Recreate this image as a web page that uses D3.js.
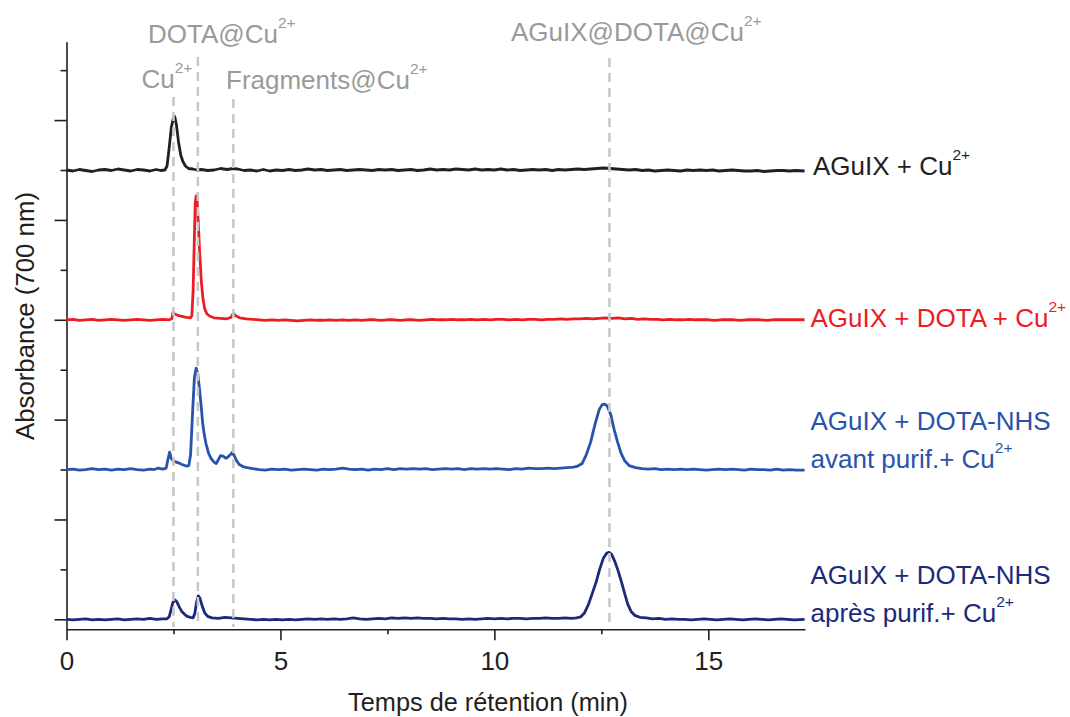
<!DOCTYPE html>
<html><head><meta charset="utf-8">
<script src="https://cdn.jsdelivr.net/npm/d3@7"></script>
<style>body{margin:0;background:#fff}svg{display:block;font-family:"Liberation Sans",Arial,Helvetica,sans-serif}</style>
</head><body><svg id="c" width="1070" height="717"></svg>
<script>
// ---- data: [retention time (min), absorbance relative to trace baseline] ----
const traceBlack = [[0,0.0],[0.15,-0.02],[0.3,0.01],[0.45,-0.01],[0.6,-0.03],[0.75,0.0],[0.9,0.01],[1.05,-0.01],[1.2,0.02],[1.35,0.0],[1.5,-0.02],[1.65,0.01],[1.8,0.0],[1.95,-0.02],[2.1,0.01],[2.2,-0.01],[2.3,0.0],[2.35,0.08],[2.4,0.45],[2.45,0.85],[2.5,1.05],[2.53,1.07],[2.57,0.9],[2.62,0.55],[2.67,0.3],[2.72,0.17],[2.78,0.08],[2.85,0.03],[2.95,0.02],[3.05,0.0],[3.15,0.01],[3.3,-0.01],[3.45,0.0],[3.6,0.03],[3.75,0.01],[3.9,0.03],[4.0,0.02],[4.15,-0.01],[4.3,0.0],[4.45,-0.02],[4.6,0.01],[4.75,-0.02],[4.9,0.0],[5.05,-0.01],[5.2,0.01],[5.35,-0.01],[5.5,0.0],[5.65,0.02],[5.8,0.0],[5.95,0.01],[6.1,-0.01],[6.25,0.0],[6.4,0.01],[6.55,-0.01],[6.7,0.0],[6.85,0.01],[7.0,0.0],[7.15,-0.01],[7.3,0.01],[7.45,0.0],[7.6,0.01],[7.75,-0.01],[7.9,0.0],[8.05,0.01],[8.2,-0.01],[8.35,0.0],[8.5,0.02],[8.65,0.0],[8.8,0.01],[8.95,0.0],[9.1,0.02],[9.25,0.01],[9.4,0.0],[9.55,0.02],[9.7,0.0],[9.85,0.01],[10.0,0.0],[10.15,0.02],[10.3,0.0],[10.45,0.01],[10.6,-0.01],[10.75,0.0],[10.9,0.01],[11.05,0.0],[11.2,0.01],[11.35,-0.01],[11.5,0.01],[11.65,0.0],[11.8,0.01],[11.95,0.02],[12.1,0.01],[12.25,0.02],[12.4,0.03],[12.55,0.04],[12.7,0.03],[12.85,0.02],[13.0,0.01],[13.15,0.0],[13.3,0.01],[13.45,-0.01],[13.6,0.0],[13.75,-0.02],[13.9,-0.01],[14.05,0.0],[14.2,-0.01],[14.35,-0.02],[14.5,0.0],[14.65,-0.01],[14.8,0.0],[14.95,-0.01],[15.1,0.0],[15.25,-0.02],[15.4,-0.01],[15.55,0.0],[15.7,-0.01],[15.85,-0.02],[16.0,-0.02],[16.15,-0.01],[16.3,-0.03],[16.45,-0.02],[16.6,-0.01],[16.75,-0.01],[16.9,-0.02],[17.05,-0.01],[17.25,-0.02]];

const traceRed = [[0,0.0],[0.15,0.01],[0.3,-0.01],[0.45,0.0],[0.6,0.01],[0.75,-0.01],[0.9,0.0],[1.05,0.01],[1.2,0.0],[1.35,-0.01],[1.5,0.0],[1.65,0.01],[1.8,0.0],[1.95,-0.01],[2.1,0.0],[2.25,0.01],[2.4,0.0],[2.46,0.02],[2.49,0.15],[2.52,0.12],[2.6,0.09],[2.7,0.07],[2.8,0.05],[2.9,0.04],[2.93,0.08],[2.96,0.6],[2.99,1.7],[3.01,2.35],[3.03,2.48],[3.05,2.42],[3.08,1.95],[3.11,1.38],[3.15,0.78],[3.19,0.42],[3.23,0.22],[3.28,0.12],[3.35,0.07],[3.45,0.04],[3.6,0.03],[3.75,0.02],[3.85,0.05],[3.9,0.13],[3.95,0.08],[4.05,0.04],[4.2,0.02],[4.35,0.01],[4.5,0.0],[4.65,-0.01],[4.8,0.0],[4.95,-0.01],[5.1,0.0],[5.25,-0.01],[5.4,-0.02],[5.55,-0.01],[5.7,0.0],[5.85,-0.01],[6.0,-0.01],[6.15,0.0],[6.3,-0.01],[6.45,0.0],[6.6,-0.01],[6.75,0.0],[6.9,-0.01],[7.05,0.0],[7.2,0.0],[7.35,-0.01],[7.5,0.0],[7.65,0.0],[7.8,-0.01],[7.95,0.0],[8.1,0.0],[8.25,-0.01],[8.4,0.0],[8.55,0.01],[8.7,0.0],[8.85,0.0],[9.0,0.01],[9.15,0.0],[9.3,0.0],[9.45,0.01],[9.6,0.0],[9.75,0.01],[9.9,0.0],[10.05,0.01],[10.2,0.01],[10.35,0.0],[10.5,0.01],[10.65,0.0],[10.8,0.01],[10.95,0.01],[11.1,0.0],[11.25,0.01],[11.4,0.01],[11.55,0.02],[11.7,0.01],[11.85,0.02],[12.0,0.02],[12.15,0.03],[12.3,0.02],[12.45,0.03],[12.6,0.04],[12.75,0.03],[12.9,0.04],[13.05,0.02],[13.2,0.03],[13.35,0.01],[13.5,0.02],[13.65,0.01],[13.8,0.01],[13.95,0.0],[14.1,0.01],[14.25,0.0],[14.4,0.0],[14.55,0.01],[14.7,0.0],[14.85,0.0],[15.0,0.0],[15.15,-0.01],[15.3,0.0],[15.45,0.0],[15.6,0.0],[15.75,-0.01],[15.9,0.0],[16.05,0.0],[16.2,0.0],[16.35,-0.01],[16.5,0.0],[16.65,0.0],[16.8,0.0],[16.95,0.0],[17.1,0.0],[17.25,0.0]];

const traceBlue = [[0,0.0],[0.15,0.01],[0.3,-0.01],[0.45,0.0],[0.6,0.02],[0.75,0.0],[0.9,0.01],[1.05,-0.01],[1.2,0.01],[1.35,0.0],[1.5,0.02],[1.65,0.0],[1.8,-0.01],[1.95,0.01],[2.05,0.0],[2.15,0.03],[2.25,0.01],[2.33,0.03],[2.37,0.2],[2.41,0.35],[2.45,0.22],[2.5,0.17],[2.6,0.14],[2.7,0.1],[2.8,0.07],[2.86,0.08],[2.9,0.3],[2.95,1.2],[2.99,1.85],[3.03,2.03],[3.07,1.9],[3.11,1.6],[3.15,1.25],[3.18,0.95],[3.22,0.7],[3.26,0.52],[3.32,0.33],[3.38,0.22],[3.45,0.15],[3.5,0.12],[3.55,0.2],[3.6,0.28],[3.66,0.27],[3.72,0.23],[3.76,0.24],[3.82,0.29],[3.87,0.34],[3.92,0.28],[3.98,0.17],[4.04,0.1],[4.12,0.06],[4.22,0.04],[4.35,0.02],[4.5,0.0],[4.65,-0.01],[4.8,0.01],[4.95,0.0],[5.1,0.01],[5.25,-0.01],[5.4,0.0],[5.55,0.01],[5.7,0.0],[5.85,-0.01],[6.0,0.01],[6.15,0.0],[6.3,0.01],[6.45,0.03],[6.6,0.01],[6.75,0.0],[6.9,0.01],[7.05,-0.01],[7.2,0.01],[7.35,0.0],[7.5,0.02],[7.65,0.0],[7.8,0.02],[7.95,0.01],[8.1,0.02],[8.25,0.01],[8.4,0.02],[8.55,0.0],[8.7,0.01],[8.85,0.02],[9.0,0.01],[9.15,0.02],[9.3,0.0],[9.45,0.02],[9.6,0.01],[9.75,0.02],[9.9,0.01],[10.05,0.02],[10.2,0.01],[10.35,0.0],[10.5,0.02],[10.65,0.01],[10.8,0.03],[10.95,0.02],[11.1,0.02],[11.25,0.03],[11.4,0.02],[11.55,0.03],[11.7,0.04],[11.85,0.05],[11.95,0.07],[12.05,0.12],[12.15,0.3],[12.25,0.55],[12.35,0.9],[12.45,1.2],[12.52,1.3],[12.58,1.31],[12.64,1.27],[12.72,1.1],[12.8,0.8],[12.88,0.55],[12.96,0.33],[13.05,0.17],[13.15,0.08],[13.3,0.04],[13.45,0.02],[13.6,0.01],[13.75,0.02],[13.9,0.0],[14.05,0.01],[14.2,0.0],[14.35,0.01],[14.5,0.0],[14.65,0.01],[14.8,0.0],[14.95,-0.01],[15.1,0.0],[15.25,0.01],[15.4,0.0],[15.55,0.01],[15.7,0.0],[15.85,-0.01],[16.0,0.01],[16.15,0.0],[16.3,0.0],[16.45,-0.01],[16.6,0.01],[16.75,-0.01],[16.9,0.0],[17.05,-0.01],[17.25,-0.01]];

const traceNavy = [[0,0.0],[0.15,-0.01],[0.3,0.0],[0.45,0.01],[0.6,-0.01],[0.75,0.0],[0.9,-0.01],[1.05,0.0],[1.2,0.01],[1.35,-0.01],[1.5,0.0],[1.65,0.01],[1.8,0.0],[1.95,0.02],[2.1,0.0],[2.25,0.01],[2.35,0.01],[2.4,0.05],[2.44,0.18],[2.48,0.32],[2.53,0.39],[2.58,0.35],[2.64,0.24],[2.7,0.15],[2.76,0.1],[2.82,0.06],[2.9,0.04],[2.96,0.03],[3.0,0.12],[3.04,0.35],[3.08,0.47],[3.12,0.42],[3.17,0.27],[3.23,0.13],[3.3,0.06],[3.4,0.03],[3.55,0.02],[3.7,0.04],[3.85,0.03],[4.0,0.02],[4.15,0.01],[4.3,0.0],[4.45,-0.01],[4.6,0.0],[4.75,-0.01],[4.9,0.0],[5.05,-0.01],[5.2,0.0],[5.35,-0.01],[5.5,0.0],[5.65,0.01],[5.8,0.0],[5.95,0.01],[6.1,0.0],[6.25,0.01],[6.4,0.0],[6.55,0.01],[6.7,0.03],[6.85,0.01],[7.0,0.0],[7.15,0.01],[7.3,0.02],[7.45,0.01],[7.6,0.03],[7.75,0.02],[7.9,0.03],[8.05,0.02],[8.2,0.03],[8.35,0.02],[8.5,0.02],[8.65,0.01],[8.8,0.02],[8.95,0.01],[9.1,0.01],[9.25,0.0],[9.4,0.01],[9.55,0.0],[9.7,0.01],[9.85,0.02],[10.0,0.01],[10.15,0.02],[10.3,0.01],[10.45,0.02],[10.6,0.02],[10.75,0.01],[10.9,0.02],[11.05,0.02],[11.2,0.03],[11.35,0.02],[11.5,0.02],[11.65,0.03],[11.8,0.02],[11.92,0.03],[12.02,0.05],[12.1,0.12],[12.2,0.3],[12.3,0.55],[12.38,0.75],[12.46,1.0],[12.55,1.23],[12.62,1.32],[12.68,1.34],[12.74,1.3],[12.82,1.15],[12.9,0.95],[12.98,0.72],[13.05,0.5],[13.12,0.3],[13.2,0.15],[13.28,0.08],[13.4,0.04],[13.55,0.03],[13.7,0.01],[13.85,0.02],[14.0,0.0],[14.15,0.01],[14.3,0.0],[14.45,0.0],[14.6,-0.01],[14.75,0.0],[14.9,0.01],[15.05,0.0],[15.2,-0.01],[15.35,0.0],[15.5,0.01],[15.65,0.0],[15.8,-0.01],[15.95,0.0],[16.1,0.01],[16.25,0.0],[16.4,-0.01],[16.55,0.0],[16.7,0.01],[16.85,0.0],[17.0,-0.01],[17.25,0.0]];

const seriesData = [traceBlack, traceRed, traceBlue, traceNavy];
const seriesOffsets = [9, 6, 3, 0];
const seriesColors = ["#231f20", "#ed1c24", "#2853ac", "#1b2a7a"];
const seriesLabelLine1 = ["AGuIX + Cu", "AGuIX + DOTA + Cu", "AGuIX + DOTA-NHS", "AGuIX + DOTA-NHS"];
const seriesLabelLine2 = [null, null, "avant purif.+ Cu", "après purif.+ Cu"];

const markerTimes = [2.5, 3.07, 3.9, 12.69];
const markerLabels = ["Cu", "DOTA@Cu", "Fragments@Cu", "AGuIX@DOTA@Cu"];

const xMajorTicks = [0, 5, 10, 15];
const xMinorTicks = [2.5, 7.5, 12.5];
const yMajorTicks = [0, 2, 4, 6, 8, 10];
const yMinorTicks = [1, 3, 5, 7, 9, 11];
const xTitle = "Temps de rétention (min)";
const yTitle = "Absorbance (700 nm)";
const charge = "2+";

// ---- layout ----
const svg = d3.select("#c");
const x = d3.scaleLinear().domain([0, 17.26]).range([66.5, 805]);
const y = d3.scaleLinear().domain([-0.2, 11.57]).range([629.3, 41.7]);
const axisColor = "#231f20";
const fontSize = 25.3;
const labelSize = 26;

// axes
const gx = svg.append("g").attr("transform", `translate(0,${y(-0.2)})`);
gx.call(d3.axisBottom(x).tickValues(xMajorTicks).tickSize(11).tickSizeOuter(0).tickFormat(d3.format("d")));
const gxm = svg.append("g").attr("transform", `translate(0,${y(-0.2)})`);
gxm.call(d3.axisBottom(x).tickValues(xMinorTicks).tickSize(5).tickSizeOuter(0).tickFormat(""));
gxm.select(".domain").remove();
const gy = svg.append("g").attr("transform", `translate(${x(0)},0)`);
gy.call(d3.axisLeft(y).tickValues(yMajorTicks).tickSize(12).tickSizeOuter(0).tickFormat(""));
const gym = svg.append("g").attr("transform", `translate(${x(0)},0)`);
gym.call(d3.axisLeft(y).tickValues(yMinorTicks).tickSize(6).tickSizeOuter(0).tickFormat(""));
gym.select(".domain").remove();
svg.selectAll(".domain, .tick line").attr("stroke", axisColor).attr("stroke-width", 1.6);
gx.selectAll(".tick text").attr("y", 0).attr("dy", 0).attr("transform", "translate(0,41)")
  .attr("font-size", 26).attr("font-family", "Liberation Sans, Arial, sans-serif").attr("fill", axisColor);

svg.append("text").attr("x", 488).attr("y", 711).attr("text-anchor", "middle")
  .attr("font-size", fontSize).attr("fill", axisColor).text(xTitle);
svg.append("text").attr("transform", "rotate(-90)").attr("x", -316).attr("y", 34)
  .attr("text-anchor", "middle").attr("font-size", 25.8).attr("fill", axisColor).text(yTitle);

// traces
const line = d3.line().x(d => x(d[0])).y(d => y(d[1]));
seriesData.forEach((s, i) => {
  svg.append("path")
    .datum(s.map(p => [p[0], p[1] + seriesOffsets[i]]))
    .attr("d", line)
    .attr("fill", "none")
    .attr("stroke", seriesColors[i])
    .attr("stroke-width", 2.8)
    .attr("stroke-linejoin", "round");
});

// reference dashed lines + labels
const markerTops = [97, 57, 99, 58];
markerTimes.forEach((t, i) => {
  svg.append("line")
    .attr("x1", x(t)).attr("x2", x(t))
    .attr("y1", markerTops[i]).attr("y2", 627)
    .attr("stroke", "#c8c8c8").attr("stroke-width", 2.6)
    .attr("stroke-dasharray", "9,6");
});

function supText(g, px, py, txt, color) {
  const t = g.append("text").attr("x", px).attr("y", py).attr("fill", color)
    .attr("font-size", labelSize);
  t.append("tspan").text(txt);
  t.append("tspan").attr("font-size", 15.5).attr("dy", -15).text(charge);
  return t;
}
const markerLabelPos = [[141.5, 88], [148, 43], [226, 89], [511, 41]];
markerLabels.forEach((lab, i) => {
  supText(svg, markerLabelPos[i][0], markerLabelPos[i][1], lab, "#9a9a9a");
});

// series labels
const labelPos = [[813, 175], [810.5, 327], [810.5, 429.5], [810.5, 583.5]];
seriesLabelLine1.forEach((lab, i) => {
  if (seriesLabelLine2[i] === null) {
    supText(svg, labelPos[i][0], labelPos[i][1], lab, seriesColors[i]);
  } else {
    svg.append("text").attr("x", labelPos[i][0]).attr("y", labelPos[i][1])
      .attr("fill", seriesColors[i]).attr("font-size", labelSize).text(lab);
    supText(svg, labelPos[i][0], labelPos[i][1] + 38, seriesLabelLine2[i], seriesColors[i]);
  }
});
</script>
</body></html>
